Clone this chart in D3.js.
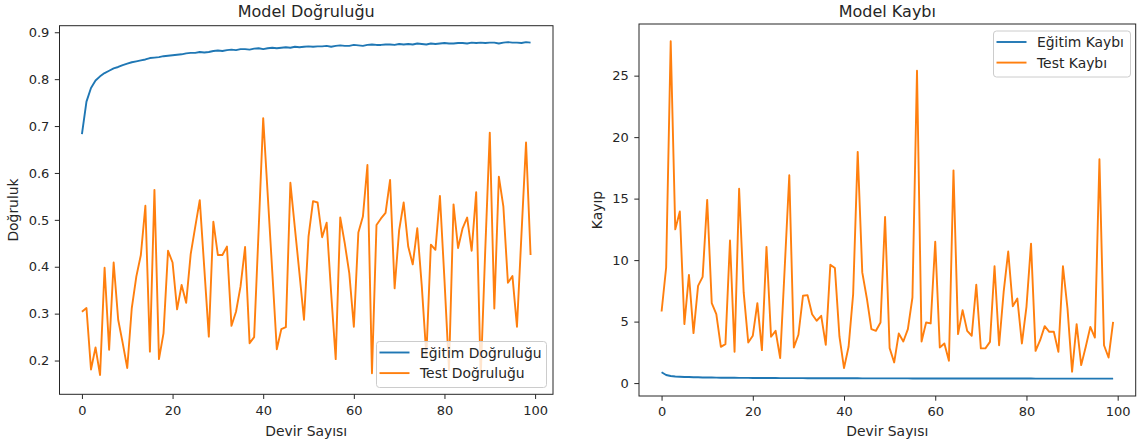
<!DOCTYPE html>
<html>
<head>
<meta charset="utf-8">
<script src="https://cdn.jsdelivr.net/npm/d3@7"></script>
<style>
  body { margin: 0; background: #fff; }
  svg { display: block; font-family: "DejaVu Sans", sans-serif; }
</style>
</head>
<body>
<svg id="chart" width="1139" height="444"></svg>
<script>
const epochs = d3.range(100);

const trainAcc = [
  0.683,0.752,0.781,0.797,0.806,0.813,0.818,0.823,0.826,0.830,
  0.833,0.836,0.838,0.840,0.842,0.845,0.846,0.847,0.849,0.850,
  0.851,0.852,0.853,0.855,0.856,0.856,0.858,0.857,0.858,0.860,
  0.861,0.860,0.862,0.863,0.862,0.864,0.864,0.863,0.865,0.866,
  0.864,0.866,0.867,0.866,0.867,0.868,0.867,0.869,0.868,0.869,
  0.870,0.869,0.870,0.870,0.871,0.869,0.871,0.872,0.871,0.871,
  0.873,0.872,0.871,0.873,0.874,0.873,0.873,0.874,0.874,0.873,
  0.875,0.874,0.875,0.874,0.876,0.875,0.874,0.876,0.875,0.876,
  0.877,0.876,0.876,0.877,0.877,0.876,0.878,0.877,0.878,0.877,
  0.878,0.878,0.876,0.878,0.879,0.878,0.878,0.877,0.879,0.878
];

const testAcc = [
  0.304,0.312,0.181,0.228,0.169,0.398,0.223,0.409,0.287,0.237,
  0.184,0.312,0.379,0.425,0.530,0.219,0.564,0.203,0.258,0.434,
  0.409,0.309,0.361,0.323,0.427,0.485,0.542,0.397,0.251,0.496,
  0.425,0.425,0.443,0.274,0.304,0.358,0.442,0.237,0.250,0.480,
  0.717,0.553,0.390,0.224,0.267,0.271,0.579,0.482,0.386,0.287,
  0.464,0.540,0.537,0.463,0.494,0.343,0.203,0.505,0.450,0.386,
  0.272,0.473,0.507,0.617,0.173,0.489,0.503,0.515,0.585,0.354,
  0.478,0.537,0.443,0.405,0.482,0.358,0.210,0.447,0.436,0.551,
  0.372,0.180,0.533,0.440,0.482,0.505,0.434,0.559,0.165,0.436,
  0.686,0.311,0.592,0.528,0.366,0.380,0.272,0.471,0.665,0.425
];

const trainLoss = [
  0.88,0.66,0.58,0.54,0.52,0.50,0.49,0.48,0.47,0.46,
  0.455,0.45,0.445,0.44,0.436,0.432,0.43,0.427,0.424,0.421,
  0.419,0.417,0.415,0.413,0.411,0.409,0.407,0.406,0.404,0.403,
  0.401,0.400,0.399,0.397,0.396,0.395,0.394,0.393,0.392,0.391,
  0.390,0.389,0.388,0.388,0.387,0.386,0.385,0.385,0.384,0.383,
  0.382,0.382,0.381,0.380,0.380,0.379,0.378,0.378,0.377,0.377,
  0.376,0.376,0.375,0.375,0.374,0.374,0.373,0.373,0.372,0.372,
  0.371,0.371,0.370,0.370,0.370,0.369,0.369,0.368,0.368,0.368,
  0.367,0.367,0.366,0.366,0.366,0.365,0.365,0.365,0.364,0.364,
  0.364,0.363,0.363,0.363,0.362,0.362,0.362,0.361,0.361,0.361
];

const testLoss = [
  5.82,9.40,27.8,12.5,13.95,4.8,8.8,4.06,7.9,8.64,
  14.9,6.5,5.6,2.95,3.17,11.6,2.55,15.8,7.37,3.3,
  3.85,6.5,2.68,11.08,3.77,4.25,2.03,9.4,16.9,2.9,
  3.93,7.1,7.15,5.6,5.07,5.47,3.11,9.62,9.35,3.77,
  1.22,2.95,7.23,18.8,9.0,6.9,4.39,4.25,4.93,13.5,
  2.84,1.68,4.03,3.38,4.39,6.96,25.4,3.38,4.93,4.85,
  11.5,2.9,3.22,1.81,17.3,3.98,5.93,4.25,3.85,8.0,
  2.82,2.82,3.35,9.5,3.08,7.41,10.7,6.25,6.87,3.22,
  6.2,11.34,2.62,3.49,4.63,4.17,4.17,2.54,9.5,6.06,
  0.92,4.79,1.46,2.95,4.57,3.7,18.2,3.08,2.08,4.98
];

const xTicks = [0, 20, 40, 60, 80, 100];
const accTicks = [0.2, 0.3, 0.4, 0.5, 0.6, 0.7, 0.8, 0.9];
const lossTicks = [0, 5, 10, 15, 20, 25];

const titles = ["Model Doğruluğu", "Model Kaybı"];
const yLabels = ["Doğruluk", "Kayıp"];
const xLabel = "Devir Sayısı";
const accLegend = ["Eğitim Doğruluğu", "Test Doğruluğu"];
const lossLegend = ["Eğitim Kaybı", "Test Kaybı"];

const BLUE = "#1f77b4", ORANGE = "#ff7f0e", INK = "#262626";
const svg = d3.select("#chart");

function panel(cfg) {
  const x = d3.scaleLinear().domain([-4.95, 103.95]).range([cfg.left, cfg.right]);
  const y = d3.scaleLinear().domain(cfg.yDomain).range([cfg.bottom, cfg.top]);
  const g = svg.append("g");

  const line = vals => d3.line().x((d, i) => x(epochs[i])).y(d => y(d))(vals);
  g.append("path").attr("d", line(cfg.series[0])).attr("fill", "none")
    .attr("stroke", BLUE).attr("stroke-width", 1.9).attr("stroke-linejoin", "round");
  g.append("path").attr("d", line(cfg.series[1])).attr("fill", "none")
    .attr("stroke", ORANGE).attr("stroke-width", 1.9).attr("stroke-linejoin", "round");

  // axes
  const xa = g.append("g").attr("transform", `translate(0,${cfg.bottom})`)
    .call(d3.axisBottom(x).tickValues(xTicks).tickFormat(d3.format("d")).tickSize(4.7).tickPadding(6.5));
  const ya = g.append("g").attr("transform", `translate(${cfg.left},0)`)
    .call(d3.axisLeft(y).tickValues(cfg.yTicks).tickFormat(cfg.fmt).tickSize(4.7).tickPadding(5.5));
  [xa, ya].forEach(a => {
    a.select(".domain").remove();
    a.selectAll("line").attr("stroke", INK).attr("stroke-width", 1);
    a.selectAll("text").attr("fill", INK).style("font-size", "13px")
      .style("font-family", "DejaVu Sans, sans-serif");
  });

  // frame
  g.append("rect").attr("x", cfg.left).attr("y", cfg.top)
    .attr("width", cfg.right - cfg.left).attr("height", cfg.bottom - cfg.top)
    .attr("fill", "none").attr("stroke", INK).attr("stroke-width", 1);

  // title and labels
  const cx = (cfg.left + cfg.right) / 2;
  g.append("text").attr("x", cx).attr("y", 17).attr("text-anchor", "middle")
    .attr("fill", INK).style("font-size", "16px").text(cfg.title);
  g.append("text").attr("x", cx).attr("y", 436).attr("text-anchor", "middle")
    .attr("fill", INK).style("font-size", "13.9px").text(xLabel);
  g.append("text")
    .attr("transform", `translate(${cfg.ylabX},${(cfg.top + cfg.bottom) / 2}) rotate(-90)`)
    .attr("text-anchor", "middle").attr("fill", INK).style("font-size", "13.9px").text(cfg.ylab);

  // legend
  const L = cfg.legend;
  g.append("rect").attr("x", L.x).attr("y", L.y).attr("width", L.w).attr("height", L.h)
    .attr("rx", 3).attr("fill", "#fff").attr("fill-opacity", 0.8)
    .attr("stroke", "#cccccc").attr("stroke-width", 1);
  [BLUE, ORANGE].forEach((c, k) => {
    const yy = L.y + 11 + k * 20.6;
    g.append("line").attr("x1", L.x + 3).attr("x2", L.x + 33).attr("y1", yy).attr("y2", yy)
      .attr("stroke", c).attr("stroke-width", 1.9);
    g.append("text").attr("x", L.x + 43.5).attr("y", yy + 5).attr("fill", INK)
      .style("font-size", "13.9px").text(L.labels[k]);
  });
}

panel({
  left: 59.5, right: 553, top: 25.7, bottom: 394.3,
  yDomain: [0.128, 0.914], yTicks: accTicks, fmt: d3.format(".1f"),
  series: [trainAcc, testAcc], title: titles[0], ylab: yLabels[0], ylabX: 18,
  legend: { x: 376.5, y: 341.5, w: 170, h: 46, labels: accLegend }
});

panel({
  left: 639, right: 1135.7, top: 24, bottom: 396,
  yDomain: [-1.05, 29.2], yTicks: lossTicks, fmt: d3.format("d"),
  series: [trainLoss, testLoss], title: titles[1], ylab: yLabels[1], ylabX: 602,
  legend: { x: 993.5, y: 31, w: 137, h: 46, labels: lossLegend }
});
</script>
</body>
</html>
